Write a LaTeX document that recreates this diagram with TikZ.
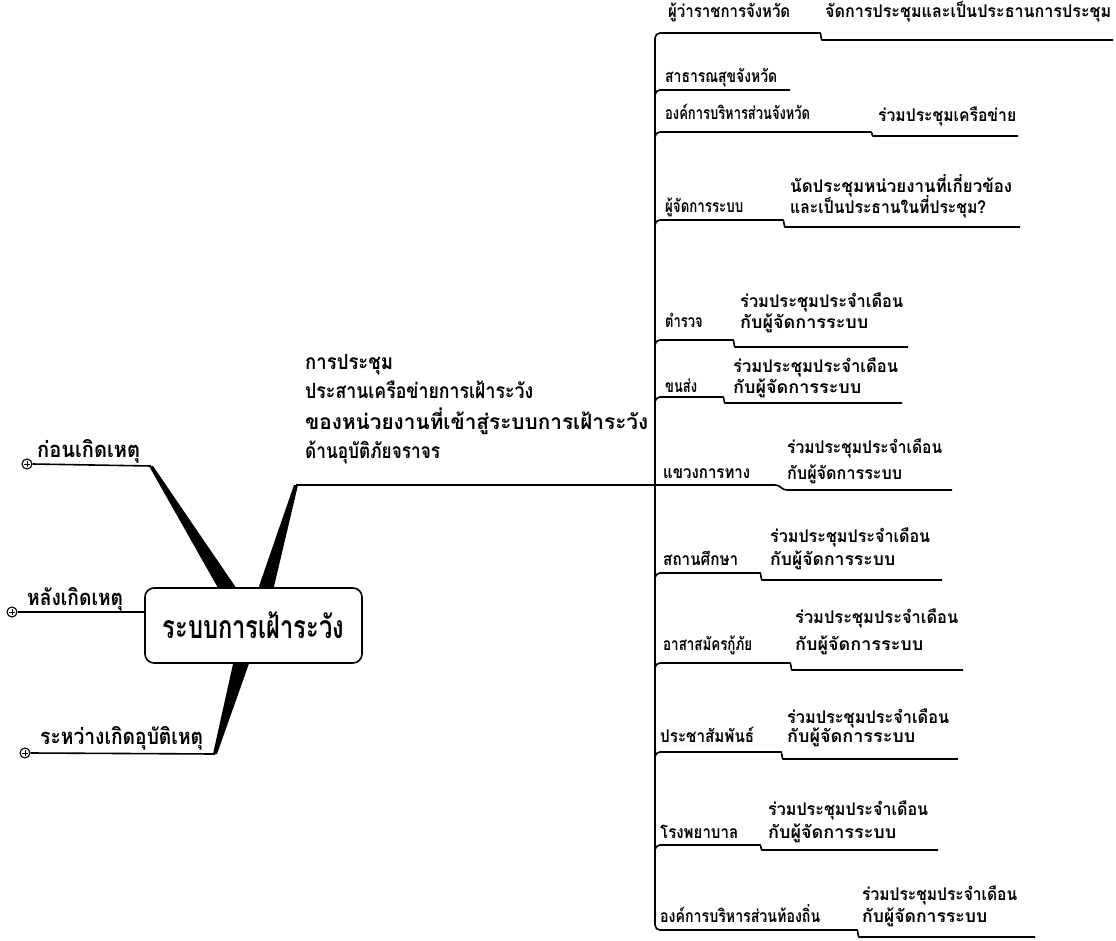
\documentclass[tikz,border=0pt]{standalone}
\usepackage{fontspec}
\usepackage{graphicx}
\newfontfamily\thai[Script=Thai]{Loma}
\newlength\fitlen
\newcommand\fitw[2]{\settowidth{\fitlen}{#2}\pgfmathsetmacro\fitr{max(0.74,min(1.03,#1/\fitlen))}\scalebox{\fitr}[1]{#2}}
\newcommand\brstep[6]{% name, y1, sx, y2, ex, corner start y
  \coordinate (#1a) at (655,#6);
  \coordinate (#1b) at (#3,#2);
  \coordinate (#1e) at (#5,#4);
  \draw[br] (#1a) |- (#1b) .. controls ++(6,0) and ([xshift=6]#3,#4) .. ([xshift=12]#3,#4) -- (#1e);
}
\begin{document}
\begin{tikzpicture}[x=1pt,y=-1pt,
  br/.style={line width=1.6pt, rounded corners=5pt},
  lab/.style={anchor=base west, inner sep=0pt, font=\thai\bfseries\fontsize{17.5}{20}\selectfont},
  big/.style={anchor=base west, inner sep=0pt, font=\thai\bfseries\fontsize{21}{24}\selectfont},
  lft/.style={anchor=base west, inner sep=0pt, font=\thai\bfseries\fontsize{22}{24}\selectfont},
  plus/.style={circle, draw, line width=1.1pt, minimum size=10pt, inner sep=0pt, fill=white}]
\useasboundingbox (0,0) rectangle (1116,941);

% ---------- right side spine ----------
\coordinate (spT) at (655,40);
\coordinate (spB) at (655,922);
\draw[line width=1.6pt] (spT) -- (spB);

% branch 1
\node[lab] (l1) at (668,18) {\fitw{122}{ผู้ว่าราชการจังหวัด}};
\node[lab] (d1) at (825,18) {\fitw{286}{จัดการประชุมและเป็นประธานการประชุม}};
\brstep{b1}{33}{815}{40}{1113}{43}
% branch 2
\node[lab] (l2) at (665,83) {\fitw{112}{สาธารณสุขจังหวัด}};
\coordinate (b2a) at (655,98);
\coordinate (b2e) at (790,90);
\draw[br] (b2a) |- (b2e);
% branch 3
\node[lab] (l3) at (665,120) {\fitw{140}{องค์การบริหารส่วนจังหวัด}};
\node[lab] (d3) at (878,122) {\fitw{138}{ร่วมประชุมเครือข่าย}};
\brstep{b3}{132}{866}{136}{1018}{142}
% branch 4
\node[lab] (l4) at (665,213) {\fitw{78}{ผู้จัดการระบบ}};
\node[lab] (d4a) at (790,193) {\fitw{222}{นัดประชุมหน่วยงานที่เกี่ยวข้อง}};
\node[lab] (d4b) at (790,214) {\fitw{196}{และเป็นประธานในที่ประชุม?}};
\brstep{b4}{220}{778}{227}{1020}{230}
% branch 5
\node[lab] (l5) at (665,327) {\fitw{33}{ตำรวจ}};
\node[lab] (d5a) at (740,307) {\fitw{163}{ร่วมประชุมประจำเดือน}};
\node[lab] (d5b) at (740,328) {\fitw{140}{กับผู้จัดการระบบ}};
\brstep{b5}{340}{728}{347}{908}{350}
% branch 6
\node[lab] (l6) at (665,392) {\fitw{28}{ขนส่ง}};
\node[lab] (d6a) at (733,372) {\fitw{165}{ร่วมประชุมประจำเดือน}};
\node[lab] (d6b) at (733,393) {\fitw{140}{กับผู้จัดการระบบ}};
\brstep{b6}{397}{718}{403}{902}{407}
% branch 7 (continues the main branch)
\node[lab] (l7) at (663,478) {\fitw{87}{แขวงการทาง}};
\node[lab] (d7a) at (787,453) {\fitw{155}{ร่วมประชุมประจำเดือน}};
\node[lab] (d7b) at (787,479) {\fitw{115}{กับผู้จัดการระบบ}};
% branch 8
\node[lab] (l8) at (663,565) {\fitw{75}{สถานศึกษา}};
\node[lab] (d8a) at (770,542) {\fitw{160}{ร่วมประชุมประจำเดือน}};
\node[lab] (d8b) at (770,565) {\fitw{125}{กับผู้จัดการระบบ}};
\brstep{b8}{573}{755}{580}{942}{583}
% branch 9
\node[lab] (l9) at (663,650) {\fitw{89}{อาสาสมัครกู้ภัย}};
\node[lab] (d9a) at (795,623) {\fitw{163}{ร่วมประชุมประจำเดือน}};
\node[lab] (d9b) at (795,650) {\fitw{137}{กับผู้จัดการระบบ}};
\brstep{b9}{663}{785}{670}{963}{673}
% branch 10
\node[lab] (l10) at (660,742) {\fitw{94}{ประชาสัมพันธ์}};
\node[lab] (d10a) at (787,723) {\fitw{162}{ร่วมประชุมประจำเดือน}};
\node[lab] (d10b) at (787,742) {\fitw{145}{กับผู้จัดการระบบ}};
\brstep{b10}{752}{776}{759}{958}{762}
% branch 11
\node[lab] (l11) at (660,838) {\fitw{78}{โรงพยาบาล}};
\node[lab] (d11a) at (768,815) {\fitw{160}{ร่วมประชุมประจำเดือน}};
\node[lab] (d11b) at (768,838) {\fitw{140}{กับผู้จัดการระบบ}};
\brstep{b11}{845}{755}{850}{938}{855}
% branch 12 (bottom corner)
\node[lab] (l12) at (660,922) {\fitw{160}{องค์การบริหารส่วนท้องถิ่น}};
\node[lab] (d12a) at (862,900) {\fitw{155}{ร่วมประชุมประจำเดือน}};
\node[lab] (d12b) at (862,922) {\fitw{125}{กับผู้จัดการระบบ}};
\brstep{b12}{930}{852}{937}{1035}{920}

% ---------- main branch ----------
\node[big] (m1) at (305,369) {\fitw{88}{การประชุม}};
\node[big] (m2) at (305,398) {\fitw{228}{ประสานเครือข่ายการเฝ้าระวัง}};
\node[big] (m3) at (305,429) {\fitw{343}{ของหน่วยงานที่เข้าสู่ระบบการเฝ้าระวัง}};
\node[big] (m4) at (305,458) {\fitw{135}{ด้านอุบัติภัยจราจร}};
\coordinate (mt) at (296,485);
\coordinate (b7b) at (775,485);
\coordinate (b7e) at (952,490);
\draw[line width=1.6pt] (mt) -- (b7b) .. controls ++(6,0) and (781,490) .. (787,490) -- (b7e);

% ---------- left branches ----------
\coordinate (w1) at (151,466);
\coordinate (w3) at (215,754);
\fill (mt) ++(-2,0) -- ++(4,0) -- (272,595) -- (256,595) -- cycle;
\fill (w1) ++(-2,0) -- ++(4,0) -- (241,595) -- (222,595) -- cycle;
\fill (w3) ++(-2,0) -- ++(4,0) -- (252,655) -- (235,655) -- cycle;

\node[plus] (p1) at (27,464) {};
\draw[line width=1pt] ([xshift=-3]p1.center) -- ([xshift=3]p1.center) ([yshift=-3]p1.center) -- ([yshift=3]p1.center);
\draw[line width=1.6pt] (p1.east) -- (w1);
\node[lft] (t1) at (37,457) {\fitw{103}{ก่อนเกิดเหตุ}};

\node[plus] (p2) at (12,612) {};
\draw[line width=1pt] ([xshift=-3]p2.center) -- ([xshift=3]p2.center) ([yshift=-3]p2.center) -- ([yshift=3]p2.center);
\node[lft] (t2) at (27,605) {\fitw{96}{หลังเกิดเหตุ}};

\node[plus] (p3) at (25,753) {};
\draw[line width=1pt] ([xshift=-3]p3.center) -- ([xshift=3]p3.center) ([yshift=-3]p3.center) -- ([yshift=3]p3.center);
\draw[line width=1.6pt] (p3.east) -- (w3);
\node[lft] (t3) at (40,744) {\fitw{163}{ระหว่างเกิดอุบัติเหตุ}};

% ---------- centre ----------
\node[draw, line width=1.6pt, rounded corners=9pt, fill=white, minimum width=217pt, minimum height=75pt, inner sep=0pt,
  font=\thai\bfseries\fontsize{32}{34}\selectfont] (c) at (253.5,625.5) {\fitw{181}{ระบบการเฝ้าระวัง}};
\draw[line width=1.6pt] (p2.east) -- (c.west |- p2.east);
\end{tikzpicture}
\end{document}
